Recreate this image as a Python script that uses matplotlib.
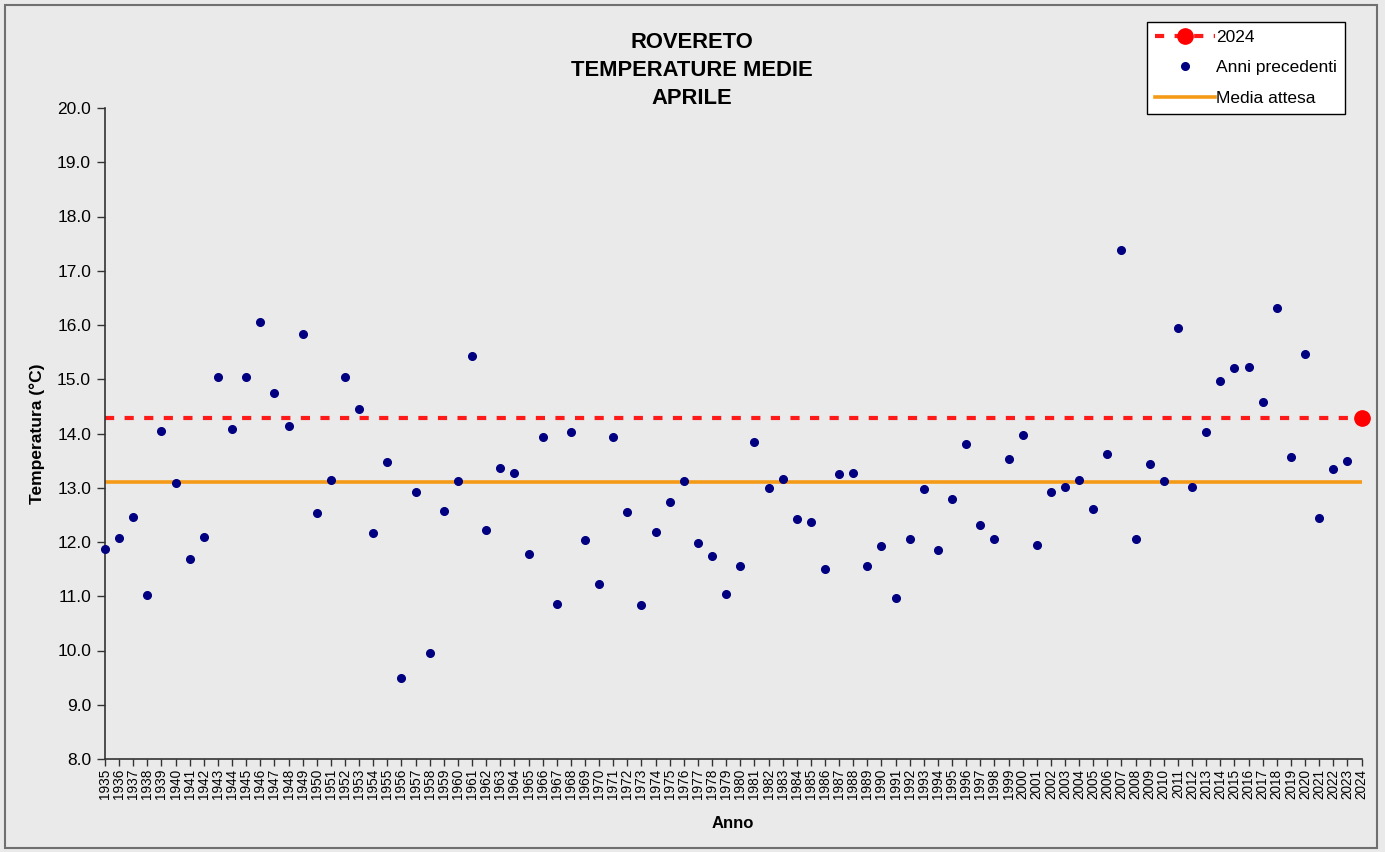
import matplotlib
matplotlib.use("Agg")
import matplotlib.pyplot as plt
from matplotlib.patches import Rectangle
from matplotlib.lines import Line2D

plt.rcParams['font.family'] = ['Liberation Sans', 'DejaVu Sans']

# April mean temperatures, Rovereto
years = list(range(1935, 2025))
temps = [
    11.87, 12.07, 12.46, 11.02, 14.04, 13.09, 11.69, 12.09, 15.04, 14.08,  # 1935-1944
    15.04, 16.05, 14.75, 14.14, 15.83, 12.53, 13.14, 15.04, 14.45, 12.17,  # 1945-1954
    13.47, 9.49, 12.92, 9.96, 12.58, 13.13, 15.42, 12.23, 13.37, 13.27,    # 1955-1964
    11.77, 13.94, 10.86, 14.03, 12.03, 11.22, 13.94, 12.56, 10.83, 12.19,  # 1965-1974
    12.74, 13.13, 11.99, 11.75, 11.05, 11.56, 13.84, 13.00, 13.16, 12.42,  # 1975-1984
    12.36, 11.50, 13.25, 13.27, 11.56, 11.93, 10.96, 12.05, 12.98, 11.85,  # 1985-1994
    12.80, 13.81, 12.31, 12.05, 13.53, 13.98, 11.94, 12.92, 13.02, 13.14,  # 1995-2004
    12.61, 13.63, 17.38, 12.05, 13.43, 13.12, 15.94, 13.02, 14.03, 14.97,  # 2005-2014
    15.21, 15.23, 14.58, 16.31, 13.57, 15.47, 12.44, 13.35, 13.49,         # 2015-2023
]
temp_2024 = 14.29
media_attesa = 13.10

yticks = [8.0 + i for i in range(13)]

fig = plt.figure(figsize=(13.85, 8.52), dpi=100)
fig.patch.set_facecolor('#eaeaea')
fig.patches.append(Rectangle((5 / 1385, 4 / 852), 1372 / 1385, 843 / 852,
                             transform=fig.transFigure, fill=False,
                             edgecolor='#707070', linewidth=1.5))

ax = fig.add_axes([105 / 1385, 1 - 759 / 852, (1361.5 - 105) / 1385, (759 - 108) / 852])
ax.set_facecolor('none')

# 2024 reference line and point
ax.plot(years, [temp_2024] * len(years), color='#ff1a1a', linewidth=3,
        dashes=(2.2, 2.5), zorder=2)
ax.plot([years[-1]], [temp_2024], 'o', color='#ff0000', markersize=11,
        clip_on=False, zorder=4)
# expected mean
ax.plot(years, [media_attesa] * len(years), color='#f59a16', linewidth=2.6, zorder=2)
# previous years
ax.plot(years[:-1], temps, 'o', color='#000080', markersize=5.5,
        linestyle='none', clip_on=False, zorder=3)

ax.set_xlim(years[0], years[-1])
ax.set_ylim(8.0, 20.0)
ax.set_yticks(yticks)
ax.set_yticklabels([f'{v:.1f}' for v in yticks], fontsize=12.5)
ax.set_xticks(years)
ax.set_xticklabels([str(y) for y in years], rotation=90, fontsize=9.8)
ax.tick_params(axis='x', length=5, width=1, color='#333333', pad=2)
ax.tick_params(axis='y', length=6, width=1, color='#333333', pad=4)

for s in ['top', 'right']:
    ax.spines[s].set_visible(False)
for s in ['left', 'bottom']:
    ax.spines[s].set_color('#333333')
    ax.spines[s].set_linewidth(1.2)

ax.set_xlabel('Anno', fontsize=12, fontweight='bold', labelpad=12)
ax.set_ylabel('Temperatura (°C)', fontsize=12.5, fontweight='bold', labelpad=9)

fig.text(692 / 1385, 1 - 70.5 / 852, 'ROVERETO\nTEMPERATURE MEDIE\nAPRILE',
         ha='center', va='center', fontsize=15.8, fontweight='bold',
         linespacing=1.42)

handles = [
    Line2D([], [], color='#ff1a1a', linewidth=3, dashes=(2.2, 2.5),
           marker='o', markersize=11, markerfacecolor='#ff0000',
           markeredgecolor='#ff0000'),
    Line2D([], [], color='#000080', marker='o', markersize=5.5, linestyle='none'),
    Line2D([], [], color='#f59a16', linewidth=2.6),
]
leg = fig.legend(handles, ['2024', 'Anni precedenti', 'Media attesa'],
                 loc='upper right', bbox_to_anchor=(1345 / 1385, 1 - 22 / 852),
                 bbox_transform=fig.transFigure, fontsize=12.5, frameon=True,
                 fancybox=False, edgecolor='black', facecolor='white',
                 framealpha=1, handlelength=3.5, handletextpad=0.05,
                 borderpad=0.45, labelspacing=0.88, borderaxespad=0)
leg.get_frame().set_linewidth(1.0)

fig.savefig('out.png', dpi=100, facecolor=fig.get_facecolor())
